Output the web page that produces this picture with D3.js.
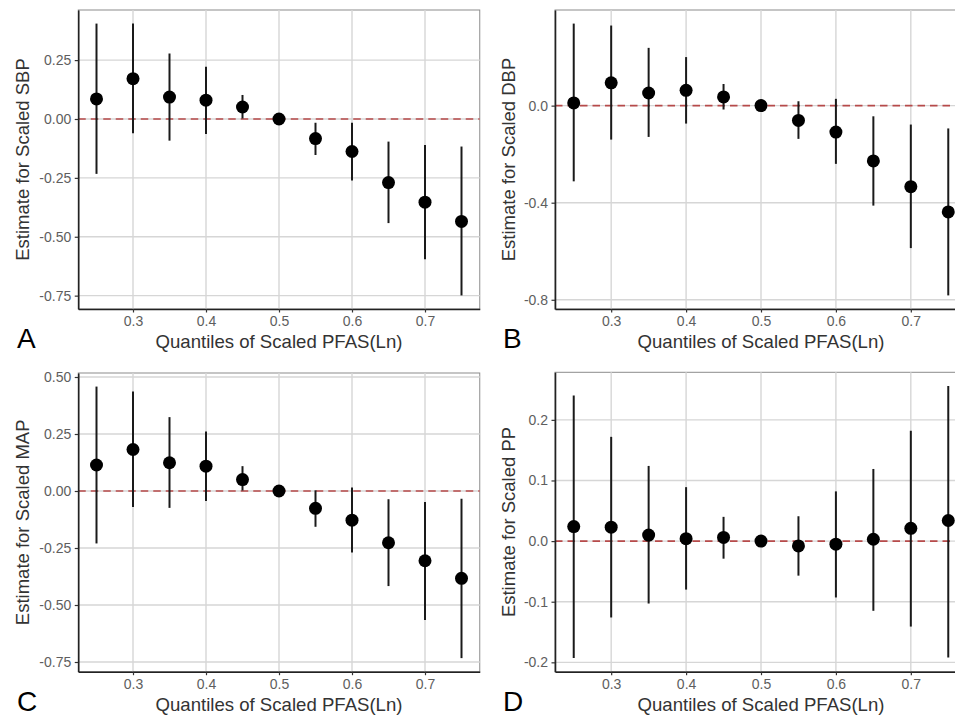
<!DOCTYPE html>
<html lang="en">
<head>
    <meta charset="UTF-8">
    <title>Quantiles of Scaled PFAS</title>
    <script src="https://cdnjs.cloudflare.com/ajax/libs/d3/7.8.5/d3.min.js"></script>
    <style>
        body { margin: 0; background: #fff; }
        text { font-family: "Liberation Sans", Arial, sans-serif; }
    </style>
</head>
<body>
<svg id="chart" width="955" height="717"></svg>
<script>
    // quantile positions on the x axis
    var quantiles = [0.25, 0.30, 0.35, 0.40, 0.45, 0.50, 0.55, 0.60, 0.65, 0.70, 0.75];

    // A - SBP
    var sbpEst  = [0.085, 0.171, 0.093, 0.080, 0.051, 0, -0.083, -0.138, -0.270, -0.353, -0.435];
    var sbpLow  = [-0.233, -0.061, -0.092, -0.064, 0.002, 0, -0.153, -0.261, -0.442, -0.595, -0.749];
    var sbpHigh = [0.405, 0.405, 0.278, 0.222, 0.102, 0, -0.016, -0.016, -0.096, -0.110, -0.117];

    // B - DBP
    var dbpEst  = [0.011, 0.094, 0.052, 0.063, 0.036, 0, -0.061, -0.109, -0.228, -0.334, -0.438];
    var dbpLow  = [-0.312, -0.140, -0.129, -0.074, -0.016, 0, -0.137, -0.240, -0.412, -0.587, -0.782];
    var dbpHigh = [0.338, 0.330, 0.238, 0.200, 0.089, 0, 0.018, 0.028, -0.044, -0.078, -0.094];

    // C - MAP
    var mapEst  = [0.114, 0.182, 0.124, 0.109, 0.050, 0, -0.076, -0.128, -0.227, -0.306, -0.383];
    var mapLow  = [-0.230, -0.070, -0.074, -0.044, 0.002, 0, -0.157, -0.270, -0.417, -0.566, -0.733];
    var mapHigh = [0.458, 0.436, 0.324, 0.261, 0.109, 0, 0.003, 0.015, -0.036, -0.048, -0.034];

    // D - PP
    var ppEst  = [0.024, 0.023, 0.010, 0.004, 0.006, 0, -0.008, -0.005, 0.003, 0.021, 0.034];
    var ppLow  = [-0.193, -0.126, -0.103, -0.080, -0.029, 0, -0.057, -0.093, -0.115, -0.141, -0.192];
    var ppHigh = [0.240, 0.172, 0.124, 0.089, 0.040, 0, 0.041, 0.082, 0.119, 0.182, 0.256];

    // tick labels
    var xTicks = [0.3, 0.4, 0.5, 0.6, 0.7];
    var sbpTicks = [0.25, 0, -0.25, -0.5, -0.75];
    var dbpTicks = [0, -0.4, -0.8];
    var mapTicks = [0.5, 0.25, 0, -0.25, -0.5, -0.75];
    var ppTicks = [0.2, 0.1, 0, -0.1, -0.2];

    var xTitle = "Quantiles of Scaled PFAS(Ln)";

    var svg = d3.select("#chart");

    var panels = [
        {letter: "A", title: "Estimate for Scaled SBP", est: sbpEst, low: sbpLow, high: sbpHigh, ticks: sbpTicks, fmt: ".2f",
         left: 78.25, right: 479.75, top: 10, bottom: 309, ox: 0, oy: 0},
        {letter: "B", title: "Estimate for Scaled DBP", est: dbpEst, low: dbpLow, high: dbpHigh, ticks: dbpTicks, fmt: ".1f",
         left: 555, right: 967, top: 10, bottom: 309, ox: 486, oy: 0},
        {letter: "C", title: "Estimate for Scaled MAP", est: mapEst, low: mapLow, high: mapHigh, ticks: mapTicks, fmt: ".2f",
         left: 78.25, right: 479.75, top: 373, bottom: 671.7, ox: 0, oy: 362.5},
        {letter: "D", title: "Estimate for Scaled PP", est: ppEst, low: ppLow, high: ppHigh, ticks: ppTicks, fmt: ".1f",
         left: 555, right: 967, top: 372.3, bottom: 671.7, ox: 486, oy: 362.5}
    ];

    // ggplot prints a plain hyphen, not the unicode minus
    function minus(f) {
        return function(d) { return f(d).replace("\u2212", "-"); };
    }

    panels.forEach(function(p) {
        var g = svg.append("g");

        // 5% expansion like ggplot
        var lo = d3.min(p.low), hi = d3.max(p.high);
        var pad = (hi - lo) * 0.05;
        var y = d3.scaleLinear().domain([lo - pad, hi + pad]).range([p.bottom, p.top]);
        var xpad = (quantiles[quantiles.length - 1] - quantiles[0]) * 0.05;
        var x = d3.scaleLinear()
            .domain([quantiles[0] - xpad, quantiles[quantiles.length - 1] + xpad])
            .range([p.left, p.right]);

        g.append("rect")
            .attr("x", p.left).attr("y", p.top)
            .attr("width", p.right - p.left).attr("height", p.bottom - p.top)
            .attr("fill", "#fff")
            .attr("stroke", "#8c8c8c")
            .attr("stroke-width", 1);

        // grid
        g.selectAll(".hgrid").data(p.ticks).enter().append("line")
            .attr("x1", p.left).attr("x2", p.right)
            .attr("y1", function(d) { return y(d); })
            .attr("y2", function(d) { return y(d); })
            .attr("stroke", "#d6d6d6").attr("stroke-width", 1.4);
        g.selectAll(".vgrid").data(xTicks).enter().append("line")
            .attr("y1", p.top).attr("y2", p.bottom)
            .attr("x1", function(d) { return x(d); })
            .attr("x2", function(d) { return x(d); })
            .attr("stroke", "#d6d6d6").attr("stroke-width", 1.4);

        // reference line at zero
        g.append("line")
            .attr("x1", p.left).attr("x2", p.right)
            .attr("y1", y(0)).attr("y2", y(0))
            .attr("stroke", "#b23b3b")
            .attr("stroke-opacity", 0.9)
            .attr("stroke-width", 1.7)
            .attr("stroke-dasharray", "7.5,5");

        var rows = quantiles.map(function(q, i) {
            return {q: q, est: p.est[i], low: p.low[i], high: p.high[i]};
        });

        // error bars
        g.selectAll(".bar").data(rows).enter().append("line")
            .attr("x1", function(d) { return x(d.q); })
            .attr("x2", function(d) { return x(d.q); })
            .attr("y1", function(d) { return y(d.low); })
            .attr("y2", function(d) { return y(d.high); })
            .attr("stroke", "#1a1a1a")
            .attr("stroke-width", 2);

        // points
        g.selectAll(".pt").data(rows).enter().append("circle")
            .attr("cx", function(d) { return x(d.q); })
            .attr("cy", function(d) { return y(d.est); })
            .attr("r", 6.5)
            .attr("fill", "#000");

        // axes
        var yAxis = g.append("g")
            .attr("transform", "translate(" + p.left + ",0)")
            .call(d3.axisLeft(y).tickValues(p.ticks).tickSize(3.5).tickSizeOuter(0).tickPadding(3.5)
                .tickFormat(minus(d3.format(p.fmt))));
        var xAxis = g.append("g")
            .attr("transform", "translate(0," + p.bottom + ")")
            .call(d3.axisBottom(x).tickValues(xTicks).tickSize(3.5).tickSizeOuter(0).tickPadding(4)
                .tickFormat(d3.format(".1f")));
        [yAxis, xAxis].forEach(function(a) {
            a.select(".domain").attr("stroke", "#222").attr("stroke-width", 1.6);
            a.selectAll(".tick line").attr("stroke", "#333").attr("stroke-width", 1.2);
            a.selectAll(".tick text")
                .attr("fill", "#5e5e5e")
                .style("font-size", "14px")
                .style("font-family", '"Liberation Sans", Arial, sans-serif');
        });

        // titles
        g.append("text")
            .attr("x", x(0.5))
            .attr("y", 348.3 + p.oy)
            .attr("text-anchor", "middle")
            .attr("fill", "#333")
            .style("font-size", "18.6px")
            .text(xTitle);

        g.append("text")
            .attr("transform", "translate(" + (28.5 + p.ox) + "," + ((p.top + p.bottom) / 2) + ") rotate(-90)")
            .attr("text-anchor", "middle")
            .attr("fill", "#333")
            .style("font-size", "18.5px")
            .text(p.title);

        g.append("text")
            .attr("x", 17 + p.ox)
            .attr("y", 348.3 + p.oy)
            .attr("fill", "#000")
            .style("font-size", "28px")
            .text(p.letter);
    });
</script>
</body>
</html>
